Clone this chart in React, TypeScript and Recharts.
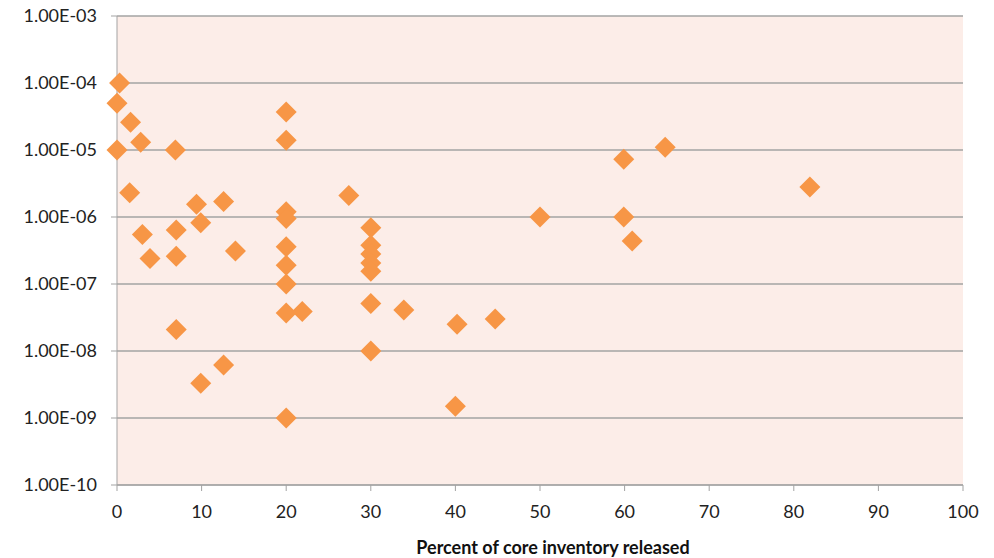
import React from "react";
import {
  ScatterChart,
  Scatter,
  XAxis,
  YAxis,
  CartesianGrid,
  Label,
} from "recharts";

// Percent of core inventory released (x) vs. frequency (y, log scale)
const percentReleased = [
  0.3, 0, 1.6, 2.8, 0, 6.9, 1.5, 3.0, 3.9, 7, 7, 7, 9.4, 9.9, 12.6, 14, 9.9,
  12.6, 20, 20, 20, 20, 20, 20, 20, 20, 20, 21.9, 27.4, 30, 30, 30, 30, 30, 30,
  30, 33.9, 40.2, 40, 44.7, 50, 59.9, 64.8, 59.9, 60.9, 81.9,
];
const frequency = [
  1.0e-4, 5.0e-5, 2.6e-5, 1.3e-5, 1.0e-5, 1.0e-5, 2.3e-6, 5.5e-7, 2.4e-7,
  6.4e-7, 2.6e-7, 2.1e-8, 1.55e-6, 8.2e-7, 1.7e-6, 3.1e-7, 3.3e-9, 6.2e-9,
  3.7e-5, 1.4e-5, 1.2e-6, 9.5e-7, 3.6e-7, 1.9e-7, 1.0e-7, 3.7e-8, 1.0e-9,
  3.9e-8, 2.1e-6, 6.9e-7, 3.8e-7, 2.8e-7, 2.05e-7, 1.55e-7, 5.1e-8, 1.0e-8,
  4.1e-8, 2.5e-8, 1.5e-9, 3.0e-8, 1.0e-6, 7.3e-6, 1.1e-5, 1.0e-6, 4.4e-7,
  2.8e-6,
];
const xTicks = [0, 10, 20, 30, 40, 50, 60, 70, 80, 90, 100];
const yTicks = [1e-10, 1e-9, 1e-8, 1e-7, 1e-6, 1e-5, 1e-4, 1e-3];

const points = percentReleased.map((x, i) => ({ x, y: frequency[i] }));

const ORANGE = "#F79646";
const GRID = "#A3A3A3";
const FONT = "Lato, 'Liberation Sans', sans-serif";

// Excel-style diamond marker
const Diamond = (props: any) => {
  const { cx, cy } = props;
  const r = 10.5;
  return (
    <polygon
      points={`${cx},${cy - r} ${cx + r},${cy} ${cx},${cy + r} ${cx - r},${cy}`}
      fill={ORANGE}
    />
  );
};

const formatExp = (v: number) => {
  const exp = Math.round(Math.log10(v));
  const sign = exp < 0 ? "-" : "+";
  return `1.00E${sign}${String(Math.abs(exp)).padStart(2, "0")}`;
};

export default function App() {
  return (
    <div
      style={{
        position: "absolute",
        left: 0,
        top: 0,
        width: 994,
        height: 558,
        background: "#fff",
      }}
    >
      <ScatterChart
        width={994}
        height={558}
        margin={{ top: 16, right: 31, left: 12, bottom: 0 }}
      >
        <CartesianGrid
          vertical={false}
          stroke={GRID}
          strokeWidth={1.3}
          fill="#FCEDE8"
          fillOpacity={1}
        />
        <XAxis
          type="number"
          dataKey="x"
          domain={[0, 100]}
          ticks={xTicks}
          height={73}
          tickSize={6}
          tickMargin={14}
          stroke={GRID}
          tick={{ fill: "#222", fontSize: 18, fontFamily: FONT }}
        >
          <Label
            value="Percent of core inventory released"
            position="insideTop"
            offset={56}
            dx={13}
            style={{
              fill: "#111",
              fontSize: 18,
              fontWeight: 700,
              fontFamily: FONT,
            }}
          />
        </XAxis>
        <YAxis
          type="number"
          dataKey="y"
          scale="log"
          domain={[1e-10, 1e-3]}
          ticks={yTicks}
          allowDataOverflow
          width={105}
          tickSize={6}
          tickMargin={14}
          stroke={GRID}
          tickFormatter={formatExp}
          tick={{ fill: "#222", fontSize: 18, fontFamily: FONT }}
        />
        <Scatter
          data={points}
          shape={<Diamond />}
          isAnimationActive={false}
        />
      </ScatterChart>
    </div>
  );
}
